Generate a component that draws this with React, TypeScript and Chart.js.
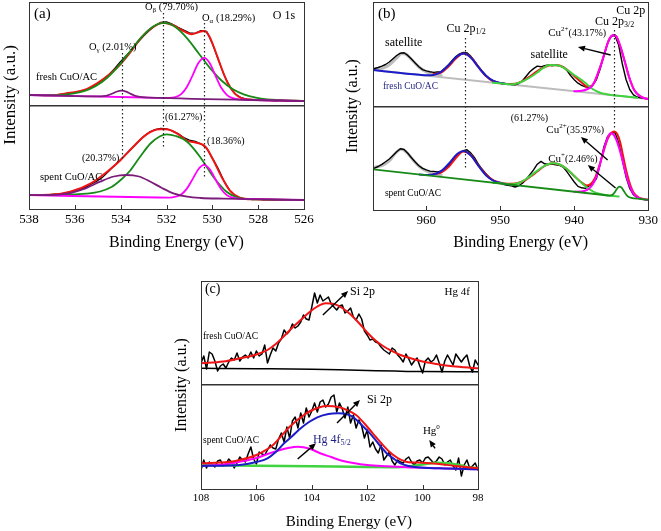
import React, { useEffect, useRef } from "react";
import { Chart, registerables } from "chart.js";

Chart.register(...registerables);

const FONT = "'Liberation Serif', 'Times New Roman', Times, serif";
type P = [number, number];

// ================= Panel (a): O 1s =================
const aTicks = [538, 536, 534, 532, 530, 528, 526];
const aEnergies = [538, 537.75, 537.5, 537.25, 537, 536.75, 536.5, 536.25, 536, 535.75, 535.5, 535.25, 535, 534.75, 534.5, 534.25, 534, 533.75, 533.5, 533.25, 533, 532.75, 532.5, 532.25, 532, 531.75, 531.5, 531.25, 531, 530.75, 530.5, 530.25, 530, 529.75, 529.5, 529.25, 529, 528.75, 528.5, 528.25, 528, 527.75, 527.5, 527.25, 527, 526.75, 526.5, 526.25, 526];
const aFreshCounts = [11.2, 10.6, 11.3, 10.8, 11.4, 11.0, 12.0, 12.4, 13.5, 14.8, 16.3, 18.9, 22.8, 26.4, 31.5, 37.8, 44.5, 50.6, 56.5, 63.6, 70.0, 75.4, 80.2, 83.6, 84.1, 81.8, 78.7, 75.9, 73.2, 72.6, 75.3, 74.6, 62.5, 47.0, 31.8, 19.6, 11.8, 8.4, 6.9, 6.4, 5.9, 6.3, 5.6, 5.2, 5.8, 5.1, 4.9, 5.4, 5.0];
const aFreshEnvelope: P[] = [[538, 11], [537, 10.8], [536.4, 12.5], [535.6, 16], [535.05, 22.5], [534.5, 31.5], [534, 42], [533.6, 53], [533.15, 67], [532.6, 78.7], [532.15, 83.3], [531.7, 80.7], [531.3, 75.5], [530.9, 71.8], [530.55, 74.3], [530.35, 75], [530.15, 70.5], [529.95, 60], [529.65, 41], [529.35, 24], [529.05, 13.3], [528.65, 7.3], [527.9, 6], [526, 5]];
const aFreshObeta: P[] = [[538, 11], [537.1, 10.9], [536.6, 11.1], [536.1, 12.3], [535.6, 14.8], [535.1, 19.7], [534.6, 28.0], [534.1, 39.9], [533.6, 54.3], [533.1, 68.7], [532.6, 79.3], [532.1, 83.1], [531.6, 78.8], [531.1, 67.7], [530.6, 52.8], [530.1, 37.9], [529.6, 25.5], [529.1, 16.7], [528.6, 11.3], [528.1, 8.3], [527.6, 6.6], [527.1, 5.9], [526, 5.0]];
const aFreshOalpha: P[] = [[538, 11], [533, 8.5], [532.36, 8.2], [531.86, 8.2], [531.61, 9.0], [531.36, 11.9], [531.11, 19.0], [530.86, 30.6], [530.61, 42.9], [530.36, 48.2], [530.11, 42.7], [529.86, 30.1], [529.61, 18.2], [529.36, 10.9], [529.11, 7.8], [528.86, 6.7], [528.36, 6.2], [526, 5]];
const aFreshOgamma: P[] = [[538, 11], [535.16, 9.6], [534.96, 9.6], [534.76, 9.9], [534.56, 10.7], [534.36, 12.5], [534.16, 14.5], [533.96, 15.3], [533.76, 14.3], [533.56, 12.1], [533.36, 10.1], [533.16, 9.1], [532.96, 8.6], [532.76, 8.4], [526, 5]];

const aSpentCounts = [14.2, 13.6, 14.4, 13.9, 14.6, 15.0, 15.6, 16.9, 18.4, 19.6, 22.1, 25.3, 28.4, 32.6, 38.2, 43.9, 49.6, 55.2, 61.0, 66.8, 72.5, 76.8, 79.4, 80.6, 80.1, 78.2, 75.5, 71.4, 68.9, 67.6, 65.2, 61.0, 51.2, 40.8, 28.5, 18.9, 13.2, 10.8, 10.1, 9.5, 10.0, 9.2, 9.6, 8.9, 9.4, 8.8, 9.2, 8.7, 9.0];
const aSpentEnvelope: P[] = [[538, 14], [537.1, 14.2], [536.2, 17.3], [535.3, 25.7], [534.5, 39], [534, 49], [533.45, 62.3], [532.87, 74.7], [532.3, 79.7], [532, 79.7], [531.55, 75.7], [531.1, 68.3], [530.7, 66.3], [530.3, 62.3], [529.96, 49], [529.6, 32.3], [529.23, 18.3], [528.8, 11.3], [528.2, 9.7], [526, 9]];
const aSpentObeta: P[] = [[538, 13.8], [536.5, 14], [535.5, 15.3], [534.9, 17.5], [534.4, 22], [534, 29], [533.6, 38], [533.16, 52], [532.7, 65.5], [532.3, 72.5], [532.0, 74.7], [531.6, 73], [531.1, 67.3], [530.54, 52.3], [529.96, 32.3], [529.38, 17.3], [528.9, 11.5], [528.4, 9.8], [527.5, 9.5], [526, 9]];
const aSpentOalpha: P[] = [[538, 13.8], [532.36, 11.5], [531.86, 11.4], [531.61, 12.3], [531.36, 14.6], [531.11, 20.4], [530.86, 29.9], [530.61, 39.8], [530.36, 44.1], [530.11, 39.6], [529.86, 29.5], [529.61, 19.8], [529.36, 13.8], [529.11, 11.3], [528.86, 10.4], [528.36, 10.1], [526, 9]];
const aSpentOgamma: P[] = [[538, 13.8], [537, 14], [536.5, 15], [536.2, 16], [535.6, 20], [534.9, 27.3], [534.3, 32.5], [533.75, 34], [533.2, 32.5], [532.7, 27.3], [532.2, 21], [531.7, 15.7], [531.1, 12.3], [530.5, 11], [529.5, 10.4], [526, 9]];

// ================= Panel (b): Cu 2p =================
const bTicks = [960, 950, 940, 930];
const bEnergies = [967, 966.5, 966, 965.5, 965, 964.5, 964, 963.5, 963, 962.5, 962, 961.5, 961, 960.5, 960, 959.5, 959, 958.5, 958, 957.5, 957, 956.5, 956, 955.5, 955, 954.5, 954, 953.5, 953, 952.5, 952, 951.5, 951, 950.5, 950, 949.5, 949, 948.5, 948, 947.5, 947, 946.5, 946, 945.5, 945, 944.5, 944, 943.5, 943, 942.5, 942, 941.5, 941, 940.5, 940, 939.5, 939, 938.5, 938, 937.5, 937, 936.5, 936, 935.5, 935, 934.5, 934, 933.5, 933, 932.5, 932, 931.5, 931, 930.5, 930];
const bFreshCounts = [38.5, 39.5, 40.8, 42.5, 45.0, 48.3, 51.5, 53.8, 54.2, 51.6, 47.9, 44.0, 40.2, 37.4, 36.1, 35.2, 34.6, 35.0, 35.4, 38.6, 42.3, 46.5, 50.4, 53.2, 54.6, 54.1, 50.9, 46.2, 41.0, 36.3, 32.0, 28.4, 25.8, 24.2, 23.6, 22.9, 23.3, 22.5, 22.1, 23.5, 26.3, 30.8, 35.3, 38.4, 40.9, 40.2, 41.4, 42.1, 41.3, 42.0, 41.2, 40.0, 36.6, 31.5, 27.2, 23.8, 21.6, 20.2, 19.6, 21.8, 27.5, 38.0, 51.5, 63.8, 71.0, 71.5, 62.0, 43.0, 27.5, 17.5, 12.2, 10.0, 9.2, 8.6, 8.2];
const bFreshBackground: P[] = [[967.2, 37.0], [930, 8.0]];
const bFreshSatelliteHigh: P[] = [[967.2, 37.5], [966, 38.5], [965, 42], [964, 49], [963.3, 53.5], [962.8, 53], [962, 47.5], [961, 40], [960, 35], [959, 32.5], [958, 31.5]];
const bFresh2p12: P[] = [[967.2, 37.0], [960.9, 32.2], [959.9, 31.7], [958.9, 32.3], [957.9, 35.7], [956.9, 42.4], [955.9, 50.2], [954.9, 53.4], [953.9, 48.7], [952.9, 39.3], [951.9, 31.0], [950.9, 26.1], [949.9, 23.9], [948.9, 22.8]];
const bFreshSatellite: P[] = [[951, 24.3], [949.5, 23.2], [948.5, 22.6], [947.9, 23.3], [947, 25.5], [946, 29.5], [945, 34.5], [944.2, 39], [943.3, 42], [942.3, 41.8], [941.3, 38.7], [940.2, 33], [939, 27], [938.1, 21.5], [937.3, 17], [936.5, 14.3], [935.9, 13.2], [935, 12], [933, 10.4], [931.5, 9.2]];
const bFresh2p32: P[] = [[940, 15.8], [939, 16.2], [938.2, 18], [937.7, 20.3], [937.2, 26], [936.8, 33.7], [936.3, 44], [935.9, 53.7], [935.5, 63.5], [935.2, 68.7], [934.7, 72], [934.3, 70.5], [934, 65.3], [933.6, 57], [933.3, 48.7], [932.9, 38.5], [932.6, 30.3], [932.2, 22], [931.9, 17], [931.4, 12.5], [931, 10.3], [930.5, 8.8], [930, 8]];
const bFreshEnvelope: P[] = [[959, 33.0], [958, 34.5], [957, 40.5], [956, 48.5], [955, 53.5], [954, 50], [953, 40.5], [952, 31.5], [951, 26], [950, 24], [949, 23], [948, 23.2], [947, 25.8], [946, 30.5], [945, 36], [944, 40], [943, 42], [942, 41.5], [941, 37.5], [940, 31], [939, 24.5], [938.3, 20.5], [937.7, 20.8], [937.2, 26], [936.8, 33.7], [936.3, 44.5], [935.9, 54], [935.5, 63.5], [935.2, 68.7], [934.7, 72], [934.3, 70.5], [934, 65.3], [933.3, 48.7], [932.6, 30.3], [931.9, 17], [931, 10.3], [930, 8]];

const bSpentCounts = [41.8, 43.5, 45.6, 48.2, 51.0, 54.6, 58.2, 61.2, 60.5, 56.8, 52.3, 48.0, 44.2, 41.6, 40.1, 38.9, 38.6, 38.1, 38.8, 41.2, 44.6, 49.1, 53.5, 57.0, 59.4, 60.2, 57.1, 52.6, 46.3, 41.2, 36.8, 33.0, 29.8, 28.0, 26.6, 25.5, 24.8, 24.1, 23.0, 24.2, 26.8, 30.5, 35.2, 40.1, 45.8, 48.6, 46.2, 45.5, 46.0, 45.1, 44.6, 43.0, 38.4, 33.1, 28.0, 23.6, 22.2, 21.6, 24.0, 26.3, 31.5, 46.0, 63.0, 73.5, 77.0, 77.5, 67.5, 50.0, 33.0, 21.5, 15.2, 12.4, 11.2, 10.5, 10.1];
const bSpentBackgroundCuI: P[] = [[967.2, 40.7], [936, 15], [935.2, 14.4], [934.8, 15.5], [934.5, 18], [934.2, 21.5], [933.9, 23.3], [933.6, 22.3], [933.3, 19], [933, 15.5], [932.7, 13.2], [932.3, 12.2], [931, 11], [930, 10]];
const bSpentSatelliteHigh: P[] = [[967.2, 42.5], [966, 44.5], [965, 49], [964.2, 56.5], [963.4, 60.7], [962.7, 58], [962, 52], [961, 44], [960, 39], [959, 36.5], [958, 35]];
const bSpent2p12: P[] = [[960.9, 35.5], [959.9, 35.1], [958.9, 35.8], [957.9, 39.4], [956.9, 46.8], [955.9, 55.5], [954.9, 59.0], [953.9, 53.9], [952.9, 43.6], [951.9, 34.4], [950.9, 29.2], [949.9, 26.9], [948.9, 25.6]];
const bSpentSatellite: P[] = [[951, 27.3], [949.5, 26.2], [948.5, 25.5], [947.5, 27], [946.5, 31], [945.5, 36.5], [944.5, 42], [943.5, 46], [942.8, 46.7], [942, 45.5], [941, 41], [940, 34], [939, 27], [938, 21], [937, 17], [936, 15.2], [935, 14.2], [934, 13.5]];
const bSpentCuII: P[] = [[940, 18.3], [939, 18.5], [938.3, 20], [937.7, 23.5], [937.2, 30], [936.8, 38], [936.3, 52], [935.9, 63], [935.5, 72], [935.1, 76.7], [934.7, 75.5], [934.3, 70], [933.9, 61], [933.5, 50], [933.1, 38], [932.7, 28], [932.3, 20.5], [931.9, 15.5], [931.4, 12.5], [931, 11.3], [930.5, 10.6], [930, 10.2]];
const bSpentEnvelope: P[] = [[959, 36], [958, 37.5], [957, 43], [956, 52], [955, 58.5], [954, 55], [953, 45], [952, 36], [951, 30], [950, 27.3], [949, 26.3], [948, 26.5], [947, 28.5], [946, 33], [945, 38.5], [944, 44], [943, 46.7], [942, 45.5], [941, 41], [940, 34], [939, 27.5], [938.3, 24.5], [937.7, 26.5], [937.2, 32], [936.8, 40], [936.3, 52], [935.9, 62], [935.5, 71], [935, 77], [934.6, 78.5], [934.2, 76], [933.8, 68], [933.4, 54], [933, 40], [932.6, 29], [932.2, 20.5], [931.8, 15.5], [931.2, 12.2], [930.5, 10.8], [930, 10.3]];

// ================= Panel (c): Hg 4f =================
const cTicks = [108, 106, 104, 102, 100, 98];
const cEnergies = [108, 107.9, 107.8, 107.7, 107.6, 107.5, 107.4, 107.3, 107.2, 107.1, 107, 106.9, 106.8, 106.7, 106.6, 106.5, 106.4, 106.3, 106.2, 106.1, 106, 105.9, 105.8, 105.7, 105.6, 105.5, 105.4, 105.3, 105.2, 105.1, 105, 104.9, 104.8, 104.7, 104.6, 104.5, 104.4, 104.3, 104.2, 104.1, 104, 103.9, 103.8, 103.7, 103.6, 103.5, 103.4, 103.3, 103.2, 103.1, 103, 102.9, 102.8, 102.7, 102.6, 102.5, 102.4, 102.3, 102.2, 102.1, 102, 101.9, 101.8, 101.7, 101.6, 101.5, 101.4, 101.3, 101.2, 101.1, 101, 100.9, 100.8, 100.7, 100.6, 100.5, 100.4, 100.3, 100.2, 100.1, 100, 99.9, 99.8, 99.7, 99.6, 99.5, 99.4, 99.3, 99.2, 99.1, 99, 98.9, 98.8, 98.7, 98.6, 98.5, 98.4, 98.3, 98.2, 98.1, 98];
const cFreshCounts = [22, 29, 16, 33, 31, 24, 14, 19, 21, 17, 23, 27, 25, 32, 24, 28, 30, 27, 33, 27, 34, 29, 31, 40, 22, 30, 37, 34, 42, 46, 55, 51, 54, 61, 57, 59, 63, 70, 66, 65, 78, 92, 82, 90, 84, 86, 88, 81, 78, 75, 79, 80, 72, 74, 77, 68, 65, 71, 66, 54, 50, 45, 46, 43, 42, 38, 35, 33, 31, 37, 35, 30, 27, 23, 31, 26, 20, 24, 27, 19, 12, 24, 27, 23, 25, 30, 22, 13, 24, 30, 25, 20, 31, 27, 23, 27, 30, 19, 13, 25, 20];
const cFreshEnvelope: P[] = [[108, 21.7], [107.2, 23.5], [106.6, 26.7], [106, 30.5], [105.6, 35], [105.3, 41], [105, 49], [104.7, 57.5], [104.4, 65], [104.1, 72.5], [103.8, 78.5], [103.5, 81.7], [103.2, 81], [102.9, 77], [102.6, 70.5], [102.3, 62], [102, 52.5], [101.7, 44.5], [101.4, 38.5], [101.1, 34], [100.8, 30], [100.4, 26.5], [100, 23.5], [99.5, 21], [99, 19], [98.5, 17.7], [98, 16.7]];
const cFreshBackground: P[] = [[108, 16.7], [106, 16.3], [104, 15.8], [103, 15.3], [102, 14.6], [101, 13.9], [100, 13.4], [98, 13.3]];

const cSpentCounts = [19, 29, 21, 27, 24, 22, 28, 29, 23, 25, 30, 27, 21, 26, 32, 29, 27, 35, 42, 30, 25, 37, 35, 34, 39, 44, 41, 40, 50, 56, 47, 62, 51, 68, 72, 61, 76, 66, 81, 72, 78, 86, 77, 87, 89, 82, 85, 92, 94, 77, 86, 80, 71, 82, 66, 74, 61, 69, 63, 51, 59, 42, 47, 40, 36, 44, 29, 33, 37, 28, 24, 29, 27, 26, 30, 32, 27, 24, 28, 29, 26, 31, 32, 29, 26, 28, 32, 30, 24, 27, 29, 23, 19, 31, 13, 24, 29, 21, 23, 26, 19];
const cSpentEnvelope: P[] = [[108, 25.7], [107, 27], [106.6, 29], [106, 34], [105.4, 44], [104.8, 62.3], [104.2, 75.7], [103.8, 81], [103.5, 83], [103.0, 81.7], [102.7, 78.5], [102.4, 74], [102.1, 65.5], [101.8, 55.7], [101.5, 46], [101.2, 37.3], [100.9, 31], [100.6, 27.3], [100.3, 26.5], [100, 26.3], [99.4, 25], [98.8, 23], [98.0, 20.7]];
const cSpentSi2p: P[] = [[108, 23], [107, 23.5], [106.6, 24], [106, 27], [105.6, 30.7], [105.3, 37], [105.0, 45.7], [104.7, 53], [104.4, 60.7], [104.1, 67], [103.8, 71.7], [103.4, 75], [103.05, 75.7], [102.7, 74.5], [102.5, 71.7], [102.2, 64], [101.9, 55.7], [101.6, 45.5], [101.3, 35.7], [101.0, 29.5], [100.8, 25.7], [100.5, 23], [100.2, 21.7], [99.4, 20.7], [98, 19.7]];
const cSpentHg4f52: P[] = [[108, 23], [107.2, 24.5], [106.6, 27.3], [106, 31], [105.6, 35], [105.2, 38.5], [104.9, 40.7], [104.5, 42.3], [104.3, 41.7], [104.0, 39.5], [103.7, 35.7], [103.3, 32], [103.0, 29], [102.5, 26], [102.0, 24], [101.3, 22.7], [100.6, 21.7], [99.4, 20.7], [98, 19.7]];
const cSpentHg0: P[] = [[108, 24], [106, 23.3], [104, 22.7], [102, 22], [101, 21.8], [100.5, 22.5], [100, 24.5], [99.5, 26.3], [99, 25.5], [98.6, 23.5], [98.3, 21.5], [98, 20.7]];

// ================= helpers =================
const RED = "#f01414";
const DGREEN = "#178a17";
const LGREEN = "#3fd43f";
const MAGENTA = "#ff00ff";
const PURPLE = "#7b1c7b";
const BLUE = "#1c1cc8";
const GRAY = "#bdbdbd";
const NAVY = "#1f1f80";

const fromArrays = (xs: number[], ys: number[], off: number) => xs.map((x, i) => ({ x, y: ys[i] + off }));
const fromPairs = (ps: P[], off: number) => ps.map(([x, y]) => ({ x, y: y + off }));
const line = (label: string, data: any[], color: string, width: number, order: number, smooth = true) => ({
  label,
  data,
  borderColor: color,
  backgroundColor: color,
  borderWidth: width,
  pointRadius: 0,
  pointHoverRadius: 0,
  fill: false,
  order,
  tension: 0,
  cubicInterpolationMode: smooth ? "monotone" : "default",
  borderJoinStyle: "round",
  borderCapStyle: "round",
});

type Part = { t: string; s: number; dy?: number };
type Ann =
  | { k: "text"; x: number; y: number; parts: Part[]; align?: "left" | "center" | "right"; color?: string }
  | { k: "dot"; x: number; y1: number; y2: number }
  | { k: "arrow"; x1: number; y1: number; x2: number; y2: number };

const txt = (x: number, y: number, parts: Part[], align: "left" | "center" | "right" = "left", color = "#000"): Ann => ({ k: "text", x, y, parts, align, color });

const overlayPlugin = (anns: Ann[]) => ({
  id: "overlay",
  afterDatasetsDraw(chart: any) {
    const { ctx, chartArea: a, scales } = chart;
    const xs = scales.x;
    const ys = scales.y;
    ctx.save();
    // frame
    ctx.strokeStyle = "#333";
    ctx.lineWidth = 1;
    ctx.setLineDash([]);
    const L = Math.round(a.left) + 0.5, T = Math.round(a.top) + 0.5;
    ctx.strokeRect(L, T, Math.round(a.right) - Math.round(a.left), Math.round(a.bottom) - Math.round(a.top));
    // inner tick marks
    ctx.beginPath();
    xs.ticks.forEach((t: any) => {
      if (t.value > xs.min && t.value < xs.max) {
        const px = Math.round(xs.getPixelForValue(t.value)) + 0.5;
        ctx.moveTo(px, a.bottom);
        ctx.lineTo(px, a.bottom - 4);
      }
    });
    ctx.stroke();
    for (const an of anns) {
      if (an.k === "dot") {
        const px = Math.round(xs.getPixelForValue(an.x)) + 0.5;
        ctx.strokeStyle = "#222";
        ctx.lineWidth = 1.2;
        ctx.setLineDash([1.5, 2.5]);
        ctx.beginPath();
        ctx.moveTo(px, ys.getPixelForValue(an.y1));
        ctx.lineTo(px, ys.getPixelForValue(an.y2));
        ctx.stroke();
        ctx.setLineDash([]);
      } else if (an.k === "arrow") {
        const x1 = xs.getPixelForValue(an.x1), y1 = ys.getPixelForValue(an.y1);
        const x2 = xs.getPixelForValue(an.x2), y2 = ys.getPixelForValue(an.y2);
        const ang = Math.atan2(y2 - y1, x2 - x1);
        const hl = 7, hw = 3;
        const bx = x2 - hl * Math.cos(ang), by = y2 - hl * Math.sin(ang);
        ctx.strokeStyle = "#000";
        ctx.fillStyle = "#000";
        ctx.lineWidth = 1.4;
        ctx.beginPath();
        ctx.moveTo(x1, y1);
        ctx.lineTo(bx, by);
        ctx.stroke();
        ctx.beginPath();
        ctx.moveTo(x2, y2);
        ctx.lineTo(bx + hw * Math.sin(ang), by - hw * Math.cos(ang));
        ctx.lineTo(bx - hw * Math.sin(ang), by + hw * Math.cos(ang));
        ctx.closePath();
        ctx.fill();
      } else if (an.k === "text") {
        ctx.fillStyle = an.color || "#000";
        ctx.textBaseline = "middle";
        ctx.textAlign = "left";
        const widths = an.parts.map((p) => {
          ctx.font = `${p.s}px ${FONT}`;
          return ctx.measureText(p.t).width;
        });
        const total = widths.reduce((s, w) => s + w, 0);
        let px = xs.getPixelForValue(an.x);
        if (an.align === "center") px -= total / 2;
        if (an.align === "right") px -= total;
        const py = ys.getPixelForValue(an.y);
        an.parts.forEach((p, i) => {
          ctx.font = `${p.s}px ${FONT}`;
          ctx.fillText(p.t, px, py + (p.dy || 0));
          px += widths[i];
        });
      }
    }
    ctx.restore();
  },
});

type Spec = {
  min: number; max: number; ticks: number[]; yMax: number; divider: number;
  yAxisWidth: number; xAxisHeight: number; padTop: number; padRight: number;
  tickSize: number; xTitleSize: number; xTitlePadBottom: number; yTitleSize: number; yTitlePadTop: number;
  yTitle: string;
  datasets: any[]; anns: Ann[];
};

const makeConfig = (s: Spec): any => ({
  type: "line",
  data: { datasets: s.datasets },
  options: {
    animation: false,
    responsive: false,
    maintainAspectRatio: false,
    devicePixelRatio: 1,
    events: [],
    layout: { padding: { left: 0, top: s.padTop, right: s.padRight, bottom: 0 } },
    plugins: { legend: { display: false }, tooltip: { enabled: false }, title: { display: false } },
    scales: {
      x: {
        type: "linear",
        min: s.min,
        max: s.max,
        reverse: true,
        afterBuildTicks: (sc: any) => { sc.ticks = s.ticks.map((v) => ({ value: v })); },
        afterFit: (sc: any) => { sc.height = s.xAxisHeight; },
        grid: { display: false, drawTicks: false },
        border: { display: false },
        ticks: { color: "#000", font: { family: FONT, size: s.tickSize }, padding: 3, maxRotation: 0, autoSkip: false },
        title: { display: true, text: "     Binding Energy (eV)", color: "#000", font: { family: FONT, size: s.xTitleSize }, padding: { top: 0, bottom: s.xTitlePadBottom } },
      },
      y: {
        type: "linear",
        min: 0,
        max: s.yMax,
        afterBuildTicks: (sc: any) => { sc.ticks = [{ value: s.divider }]; },
        afterFit: (sc: any) => { sc.width = s.yAxisWidth; },
        grid: { display: true, drawTicks: false, color: "#333", lineWidth: 1.5 },
        border: { display: false },
        ticks: { display: false },
        title: { display: true, text: s.yTitle, color: "#000", font: { family: FONT, size: s.yTitleSize }, padding: { top: s.yTitlePadTop, bottom: 0 } },
      },
    },
  },
  plugins: [overlayPlugin(s.anns)],
});

// ---------- panel (a) ----------
const A_OFF = 103;
const makeA = () => makeConfig({
  min: 526, max: 538, ticks: aTicks, yMax: 207, divider: A_OFF,
  yAxisWidth: 29, xAxisHeight: 46, padTop: 2, padRight: 14,
  tickSize: 13, xTitleSize: 16, xTitlePadBottom: 2.4, yTitleSize: 17, yTitlePadTop: 0,
  yTitle: "     Intensity (a.u.)",
  datasets: [
    line("fresh data", fromArrays(aEnergies, aFreshCounts, A_OFF), "#000", 1.3, 10, false),
    line("fresh envelope", fromPairs(aFreshEnvelope, A_OFF), RED, 2, 5),
    line("fresh Obeta", fromPairs(aFreshObeta, A_OFF), DGREEN, 1.8, 4),
    line("fresh Oalpha", fromPairs(aFreshOalpha, A_OFF), MAGENTA, 1.8, 3),
    line("fresh Ogamma", fromPairs(aFreshOgamma, A_OFF), PURPLE, 1.8, 2),
    line("spent data", fromArrays(aEnergies, aSpentCounts, 0), "#000", 1.3, 10, false),
    line("spent envelope", fromPairs(aSpentEnvelope, 0), RED, 2, 5),
    line("spent Obeta", fromPairs(aSpentObeta, 0), DGREEN, 1.8, 4),
    line("spent Oalpha", fromPairs(aSpentOalpha, 0), MAGENTA, 1.8, 3),
    line("spent Ogamma", fromPairs(aSpentOgamma, 0), PURPLE, 1.8, 2),
  ],
  anns: [
    { k: "dot", x: 533.96, y1: 156, y2: 49 },
    { k: "dot", x: 532.14, y1: 196, y2: 62 },
    { k: "dot", x: 530.36, y1: 186, y2: 31 },
    txt(537.78, 194.5, [{ t: "(a)", s: 15 }]),
    txt(526.39, 193.5, [{ t: "O 1s", s: 12 }], "right"),
    txt(532.94, 202, [{ t: "O", s: 10.5 }, { t: "β", s: 7, dy: 3 }, { t: " (79.70%)", s: 10.5 }]),
    txt(530.45, 191, [{ t: "O", s: 10.5 }, { t: "α", s: 7, dy: 3 }, { t: " (18.29%)", s: 10.5 }]),
    txt(535.38, 162, [{ t: "O", s: 10.5 }, { t: "γ", s: 7, dy: 3 }, { t: " (2.01%)", s: 10.5 }]),
    txt(537.69, 131.5, [{ t: "fresh CuO/AC", s: 10.5 }]),
    txt(532.07, 91.5, [{ t: "(61.27%)", s: 10 }]),
    txt(530.23, 67.5, [{ t: "(18.36%)", s: 10 }]),
    txt(535.69, 51, [{ t: "(20.37%)", s: 10 }]),
    txt(537.52, 32, [{ t: "spent CuO/AC", s: 10.5 }]),
  ],
});

// ---------- panel (b) ----------
const B_OFF = 103;
const makeB = () => makeConfig({
  min: 930, max: 967.2, ticks: bTicks, yMax: 208, divider: B_OFF,
  yAxisWidth: 33, xAxisHeight: 46, padTop: 2, padRight: 10,
  tickSize: 13, xTitleSize: 16, xTitlePadBottom: 3.9, yTitleSize: 16, yTitlePadTop: 3.4,
  yTitle: "Intensity (a.u.)",
  datasets: [
    line("fresh background", fromPairs(bFreshBackground, B_OFF), GRAY, 2, 12),
    line("fresh satellite high", fromPairs(bFreshSatelliteHigh, B_OFF), GRAY, 3, 11),
    line("fresh data", fromArrays(bEnergies, bFreshCounts, B_OFF), "#000", 1.4, 10, false),
    line("fresh envelope", fromPairs(bFreshEnvelope, B_OFF), RED, 2, 6),
    line("fresh Cu 2p1/2", fromPairs(bFresh2p12, B_OFF), BLUE, 2, 5),
    line("fresh satellite", fromPairs(bFreshSatellite, B_OFF), LGREEN, 2, 4),
    line("fresh Cu 2p3/2", fromPairs(bFresh2p32, B_OFF), MAGENTA, 2, 3),
    line("spent satellite high", fromPairs(bSpentSatelliteHigh, 0), GRAY, 3, 11),
    line("spent data", fromArrays(bEnergies, bSpentCounts, 0), "#000", 1.4, 10, false),
    line("spent envelope", fromPairs(bSpentEnvelope, 0), RED, 2, 6),
    line("spent Cu 2p1/2", fromPairs(bSpent2p12, 0), BLUE, 2, 5),
    line("spent satellite", fromPairs(bSpentSatellite, 0), LGREEN, 2, 4),
    line("spent Cu2+", fromPairs(bSpentCuII, 0), MAGENTA, 2, 3),
    line("spent background Cu+", fromPairs(bSpentBackgroundCuI, 0), DGREEN, 1.8, 2),
  ],
  anns: [
    { k: "dot", x: 954.75, y1: 172, y2: 42 },
    { k: "dot", x: 934.6, y1: 180, y2: 82 },
    txt(966.53, 196, [{ t: "(b)", s: 15 }]),
    txt(930.4, 199, [{ t: "Cu 2p", s: 12 }], "right"),
    txt(934.55, 188.5, [{ t: "Cu 2p", s: 12 }, { t: "3/2", s: 8, dy: 3 }], "center"),
    txt(954.62, 181, [{ t: "Cu 2p", s: 12 }, { t: "1/2", s: 8, dy: 3 }], "center"),
    txt(963.05, 167, [{ t: "satellite", s: 12 }], "center"),
    txt(943.38, 155, [{ t: "satellite", s: 12 }], "center"),
    txt(943.51, 177, [{ t: "Cu", s: 11 }, { t: "2+", s: 7, dy: -4 }, { t: "(43.17%)", s: 10 }]),
    txt(965.86, 124, [{ t: "fresh CuO/AC", s: 9.5 }], "left", NAVY),
    { k: "arrow", x1: 935.08, y1: 155, x2: 939.5, y2: 163 },
    txt(948.6, 91.5, [{ t: "(61.27%)", s: 10 }]),
    txt(943.78, 80, [{ t: "Cu", s: 11 }, { t: "2+", s: 7, dy: -4 }, { t: "(35.97%)", s: 10 }]),
    txt(943.51, 51, [{ t: "Cu", s: 11 }, { t: "+", s: 7, dy: -4 }, { t: "(2.46%)", s: 10 }]),
    txt(965.59, 17, [{ t: "spent CuO/AC", s: 9.5 }]),
    { k: "arrow", x1: 935.49, y1: 50, x2: 939.1, y2: 73 },
    { k: "arrow", x1: 934.42, y1: 22, x2: 938.17, y2: 45 },
  ],
});

// ---------- panel (c) ----------
const C_OFF = 104;
const makeC = () => makeConfig({
  min: 98, max: 108, ticks: cTicks, yMax: 208, divider: C_OFF,
  yAxisWidth: 36, xAxisHeight: 42, padTop: 11, padRight: 14,
  tickSize: 11, xTitleSize: 15, xTitlePadBottom: 0, yTitleSize: 16, yTitlePadTop: 7.4,
  yTitle: "Intensity (a.u.)",
  datasets: [
    line("fresh data", fromArrays(cEnergies, cFreshCounts, C_OFF), "#000", 1.5, 10, false),
    line("fresh background", fromPairs(cFreshBackground, C_OFF), "#000", 1.5, 6),
    line("fresh envelope", fromPairs(cFreshEnvelope, C_OFF), RED, 2, 2),
    line("spent data", fromArrays(cEnergies, cSpentCounts, 0), "#000", 1.5, 10, false),
    line("spent Hg0", fromPairs(cSpentHg0, 0), LGREEN, 2.5, 5),
    line("spent Hg 4f5/2", fromPairs(cSpentHg4f52, 0), MAGENTA, 2, 4),
    line("spent Si 2p", fromPairs(cSpentSi2p, 0), BLUE, 2, 3),
    line("spent envelope", fromPairs(cSpentEnvelope, 0), RED, 2, 2),
  ],
  anns: [
    txt(107.86, 200, [{ t: "(c)", s: 14 }]),
    txt(98.29, 197, [{ t: "Hg 4f", s: 11 }], "right"),
    txt(102.62, 197, [{ t: "Si 2p", s: 12 }]),
    { k: "arrow", x1: 103.6, y1: 174, x2: 102.69, y2: 198 },
    txt(107.93, 152.5, [{ t: "fresh CuO/AC", s: 9.5 }]),
    txt(102.01, 89, [{ t: "Si 2p", s: 12 }]),
    { k: "arrow", x1: 103.09, y1: 66, x2: 102.26, y2: 89 },
    txt(103.96, 49, [{ t: "Hg 4f", s: 12 }, { t: "5/2", s: 8, dy: 3 }], "left", NAVY),
    { k: "arrow", x1: 104.51, y1: 30, x2: 103.85, y2: 45.7 },
    txt(99.99, 58, [{ t: "Hg", s: 11 }, { t: "0", s: 7, dy: -4 }]),
    { k: "arrow", x1: 99.55, y1: 40.7, x2: 99.76, y2: 49 },
    txt(107.93, 49, [{ t: "spent CuO/AC", s: 9.5 }]),
  ],
});

function ChartBox(props: { left: number; top: number; width: number; height: number; make: () => any }) {
  const ref = useRef<HTMLCanvasElement | null>(null);
  useEffect(() => {
    if (!ref.current) return;
    const chart = new Chart(ref.current, props.make());
    return () => chart.destroy();
  }, []);
  return (
    <canvas
      ref={ref}
      width={props.width}
      height={props.height}
      style={{ position: "absolute", left: props.left, top: props.top, width: props.width, height: props.height }}
    />
  );
}

export default function App() {
  return (
    <div style={{ position: "fixed", left: 0, top: 0, width: 661, height: 531, background: "#fff", overflow: "hidden" }}>
      <ChartBox left={0} top={0} width={318} height={255} make={makeA} />
      <ChartBox left={340} top={0} width={321} height={256} make={makeB} />
      <ChartBox left={165} top={270} width={327} height={261} make={makeC} />
    </div>
  );
}
